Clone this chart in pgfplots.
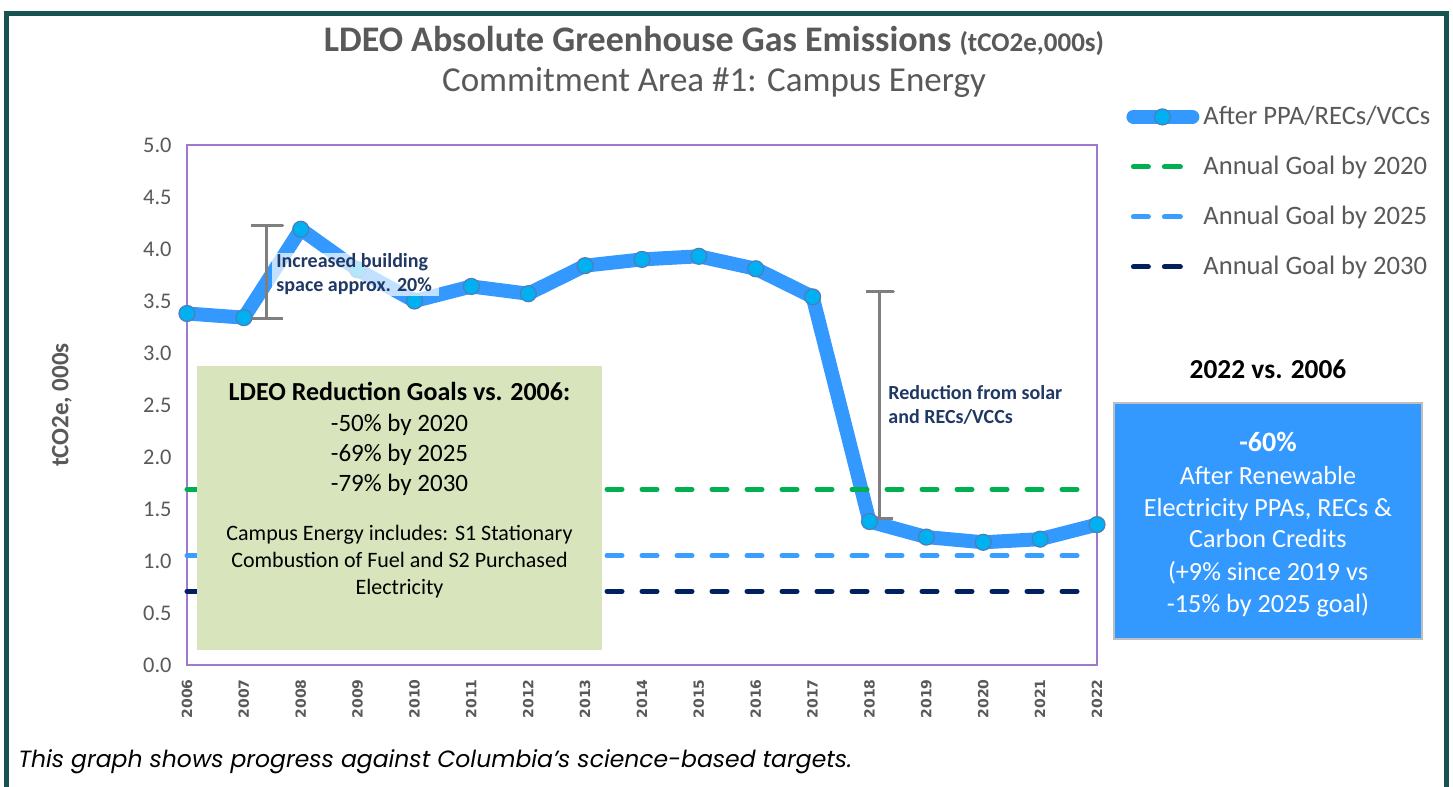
\documentclass[border=0pt]{standalone}
\usepackage{fontspec}
\setmainfont{Carlito}
\newfontfamily\dejavu{DejaVu Sans}
\newfontfamily\footfont{Poppins}
\usepackage{pgfplots}
\pgfplotsset{compat=1.18}
\definecolor{frame}{RGB}{23,84,79}
\definecolor{tgray}{RGB}{89,89,89}
\definecolor{mainblue}{RGB}{51,153,255}
\definecolor{mkfill}{RGB}{0,176,240}
\definecolor{mkdraw}{RGB}{80,125,185}
\definecolor{ggreen}{RGB}{0,176,80}
\definecolor{gblue}{RGB}{58,158,255}
\definecolor{gnavy}{RGB}{0,32,96}
\definecolor{boxgreen}{RGB}{216,228,188}
\definecolor{boxblue}{RGB}{51,153,255}
\definecolor{navytext}{RGB}{31,56,100}
\definecolor{axpurple}{RGB}{160,120,205}
\definecolor{bargray}{RGB}{127,127,127}
\newcommand{\fs}[2]{\fontsize{#1}{#2}\selectfont}
\begin{document}
\begin{tikzpicture}
\begin{scope}[x=0.5pt,y=-0.5pt]
\path[use as bounding box, fill=white] (0,0) rectangle (1453,787);
% outer frame
\draw[frame, line width=2.5pt] (6.5,787) -- (6.5,13.5) -- (1446.5,13.5) -- (1446.5,787);
% titles
\node[anchor=base, text=tgray, font=\bfseries\fs{18}{20}] at (714,51) {LDEO Absolute Greenhouse Gas Emissions {\fs{13.5}{15}(tCO2e,000s)}};
\node[anchor=base, text=tgray, font=\fs{17.5}{20}] at (714,91) {Commitment Area \#1: Campus Energy};
\end{scope}
\begin{axis}[
  at={(93.5pt,-332.5pt)}, anchor=south west, scale only axis,
  width=455pt, height=260pt,
  xmin=2006, xmax=2022, ymin=0, ymax=5,
  clip=false,
  axis line style={axpurple, line width=0.75pt},
  major tick length=0pt,
  xtick={2006,2007,2008,2009,2010,2011,2012,2013,2014,2015,2016,2017,2018,2019,2020,2021,2022},
  ytick={0,0.5,1,1.5,2,2.5,3,3.5,4,4.5,5},
  /pgf/number format/1000 sep={},
  /pgf/number format/assume math mode=true,
  yticklabel style={font=\fs{11.2}{13}, text=tgray, inner sep=0pt, xshift=-7.5pt,
    /pgf/number format/.cd, fixed, fixed zerofill, precision=1},
  xticklabel style={font=\dejavu\bfseries\fs{7}{8}, text=tgray, rotate=90, anchor=east, inner sep=0pt},
  xticklabel shift=7pt,
  ylabel={tCO2e, 000s},
  every axis y label/.style={at={(axis description cs:-0.1374,0.5)}, rotate=90, anchor=center, font=\bfseries\fs{12.5}{14}, text=tgray},
  legend style={at={(axis description cs:1,1)}, anchor=north west, xshift=11.5pt, yshift=22.25pt,
    draw=none, fill=none, font=\fs{13.3}{15}, text=tgray, row sep=13pt, column sep=2pt,
    nodes={inner sep=0pt, text height=10pt, text depth=2pt}},
  legend cell align=left,
]
\addplot[mainblue, line width=7pt, line join=round, mark=*, mark size=4pt,
  mark options={fill=mkfill, draw=mkdraw, line width=0.6pt},
  legend image code/.code={
    \draw[mainblue, line width=7pt, line cap=round] (3.5pt,0pt) -- (33pt,0pt);
    \draw[fill=mkfill, draw=mkdraw, line width=0.6pt] (18pt,0pt) circle (4pt);}]
coordinates {
(2006,3.38) (2007,3.34) (2008,4.19) (2009,3.80) (2010,3.50) (2011,3.64)
(2012,3.57) (2013,3.84) (2014,3.90) (2015,3.93) (2016,3.81) (2017,3.54)
(2018,1.38) (2019,1.23) (2020,1.18) (2021,1.21) (2022,1.35)};
\addlegendentry{After PPA/RECs/VCCs}
\addplot[ggreen, line width=2.5pt, line cap=round, dash pattern=on 7.5pt off 10pt,
  legend image code/.code={
    \draw[ggreen, solid, line width=2.5pt, line cap=round] (3.5pt,0pt) -- (11pt,0pt);
    \draw[ggreen, solid, line width=2.5pt, line cap=round] (19pt,0pt) -- (27pt,0pt);
    \path[draw=none, fill=none] (0pt,0pt) -- (36.5pt,0pt);}]
coordinates {(2006,1.69) (2022,1.69)};
\addlegendentry{Annual Goal by 2020}
\addplot[gblue, line width=2.5pt, line cap=round, dash pattern=on 7.5pt off 10pt,
  legend image code/.code={
    \draw[gblue, solid, line width=2.5pt, line cap=round] (3.5pt,0pt) -- (11pt,0pt);
    \draw[gblue, solid, line width=2.5pt, line cap=round] (19pt,0pt) -- (27pt,0pt);
    \path[draw=none, fill=none] (0pt,0pt) -- (36.5pt,0pt);}]
coordinates {(2006,1.05) (2022,1.05)};
\addlegendentry{Annual Goal by 2025}
\addplot[gnavy, line width=2.5pt, line cap=round, dash pattern=on 7.5pt off 10pt,
  legend image code/.code={
    \draw[gnavy, solid, line width=2.5pt, line cap=round] (3.5pt,0pt) -- (11pt,0pt);
    \draw[gnavy, solid, line width=2.5pt, line cap=round] (19pt,0pt) -- (27pt,0pt);
    \path[draw=none, fill=none] (0pt,0pt) -- (36.5pt,0pt);}]
coordinates {(2006,0.71) (2022,0.71)};
\addlegendentry{Annual Goal by 2030}
% I-bar annotations
\addplot[bargray, line width=1.5pt, line join=round, forget plot]
coordinates {(2007.12,4.23) (2007.68,4.23) (2007.4,4.23) (2007.4,3.33) (2007.12,3.33) (2007.68,3.33)};
\addplot[bargray, line width=1.5pt, line join=round, forget plot]
coordinates {(2017.94,3.59) (2018.42,3.59) (2018.18,3.59) (2018.18,1.41) (2017.94,1.41) (2018.42,1.41)};
\end{axis}
\begin{scope}[x=0.5pt,y=-0.5pt]
% annotation labels
\fill[white, opacity=0.7] (272,253) rectangle (439,296);
\node[anchor=base west, text=navytext, font=\bfseries\fs{10}{12}, inner sep=0pt] at (276,267) {Increased building};
\node[anchor=base west, text=navytext, font=\bfseries\fs{10}{12}, inner sep=0pt] at (276,291) {space approx. 20\%};
\node[anchor=base west, text=navytext, font=\bfseries\fs{10}{12}, inner sep=0pt] at (888,399) {Reduction from solar};
\node[anchor=base west, text=navytext, font=\bfseries\fs{10}{12}, inner sep=0pt] at (888,423) {and RECs/VCCs};
% green box
\fill[boxgreen] (197,366) rectangle (602,650);
\node[anchor=base, font=\bfseries\fs{13}{15}] at (399.5,400) {LDEO Reduction Goals vs. 2006:};
\node[anchor=base, font=\fs{12.5}{15}] at (399.5,431) {-50\% by 2020};
\node[anchor=base, font=\fs{12.5}{15}] at (399.5,461) {-69\% by 2025};
\node[anchor=base, font=\fs{12.5}{15}] at (399.5,491) {-79\% by 2030};
\node[anchor=base, font=\fs{11}{13}] at (399.5,540) {Campus Energy includes: S1 Stationary};
\node[anchor=base, font=\fs{11}{13}] at (399.5,567) {Combustion of Fuel and S2 Purchased};
\node[anchor=base, font=\fs{11}{13}] at (399.5,594) {Electricity};
% right summary box
\node[anchor=base, font=\bfseries\fs{13.7}{15}] at (1268,378) {2022 vs. 2006};
\filldraw[fill=boxblue, draw=black!25, line width=1pt] (1114,403) rectangle (1422,639);
\node[anchor=base, text=white, font=\bfseries\fs{14}{16}] at (1268,451) {-60\%};
\node[anchor=base, text=white, font=\fs{13.1}{16}] at (1268,484) {After Renewable};
\node[anchor=base, text=white, font=\fs{13.1}{16}] at (1268,516) {Electricity PPAs, RECs \&};
\node[anchor=base, text=white, font=\fs{13.1}{16}] at (1268,547) {Carbon Credits};
\node[anchor=base, text=white, font=\fs{13.1}{16}] at (1268,580) {(+9\% since 2019 vs};
\node[anchor=base, text=white, font=\fs{13.1}{16}] at (1268,612) {-15\% by 2025 goal)};
% footer
\node[anchor=base west, inner sep=0pt, font=\footfont\itshape\fs{11.75}{13}] at (18,767) {This graph shows progress against Columbia’s science-based targets.};
\end{scope}
\end{tikzpicture}
\end{document}
